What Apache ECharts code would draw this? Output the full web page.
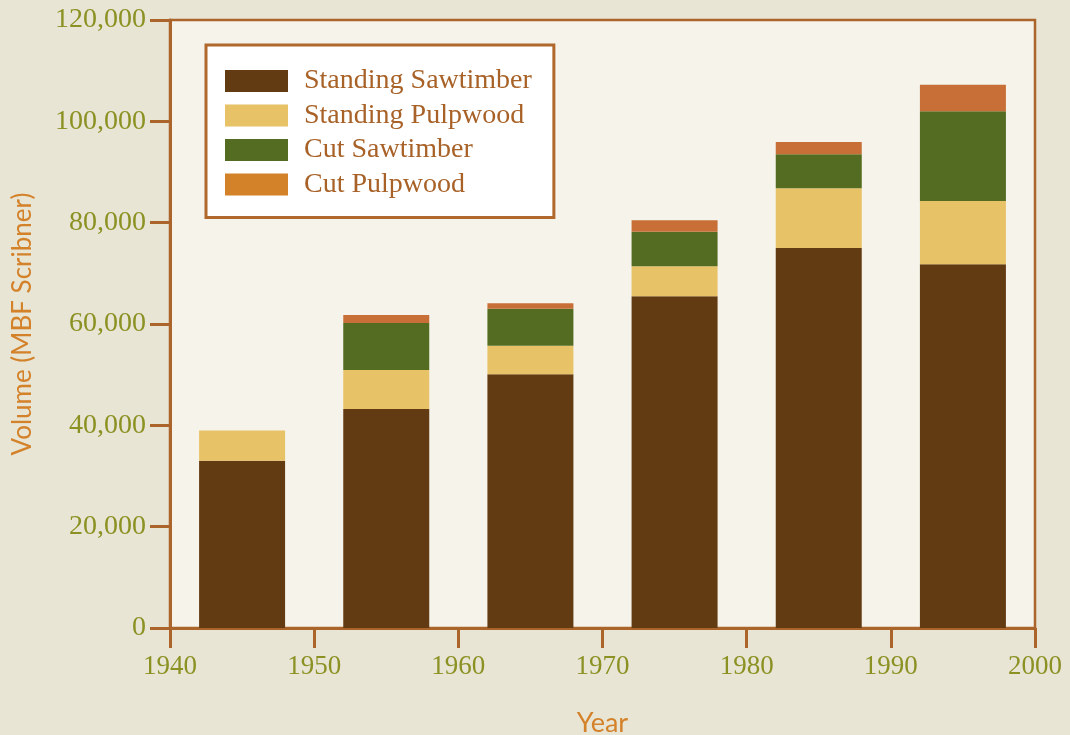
<!DOCTYPE html>
<html>
<head>
<meta charset="utf-8">
<script src="https://cdn.jsdelivr.net/npm/echarts@6/dist/echarts.min.js"></script>
<style>
html,body{margin:0;padding:0;background:#e8e5d5;}
#c{width:1070px;height:735px;}
</style>
</head>
<body>
<div id="c"></div>
<script>
const years = ['1945', '1955', '1965', '1975', '1985', '1995'];
const seriesNames = ['Standing Sawtimber', 'Standing Pulpwood', 'Cut Sawtimber', 'Cut Pulpwood'];
const standingSawtimber = [33000, 43200, 50100, 65500, 75000, 71800];
const standingPulpwood = [6000, 7700, 5600, 5900, 11800, 12500];
const cutSawtimber = [0, 9300, 7300, 6800, 6700, 17700];
const cutPulpwood = [0, 1600, 1100, 2300, 2400, 5200];
const xTicks = {min: 1940, max: 2000, interval: 10};
const yTicks = {min: 0, max: 120000, interval: 20000};

const barColors = ['#633b13', '#e8c266', '#546c21', '#c86f38'];
const legendColors = ['#633b13', '#e8c266', '#546c21', '#d4822a'];
const allValues = [standingSawtimber, standingPulpwood, cutSawtimber, cutPulpwood];

const axisColor = '#ab652b';
const labelColor = '#8b9122';
const titleColor = '#d4822a';

const chart = echarts.init(document.getElementById('c'), null, {renderer: 'canvas'});
chart.setOption({
  backgroundColor: '#e8e5d5',
  animation: false,
  grid: {left: 170, right: 35, top: 20, bottom: 107, show: true, containLabel: false,
         outerBoundsMode: 'none',
         backgroundColor: '#f5f3ea', borderColor: axisColor, borderWidth: 2.5},
  legend: {
    orient: 'vertical', left: 206, top: 45,
    backgroundColor: '#ffffff', borderColor: '#b0682c', borderWidth: 3,
    padding: [22, 22, 19, 19],
    itemWidth: 63, itemHeight: 22, itemGap: 6.5,
    textStyle: {fontFamily: 'Liberation Serif, serif', fontSize: 28, lineHeight: 28, color: '#a86228', padding: [0, 0, 0, 11]},
    data: seriesNames.map((n, i) => ({name: n, icon: 'rect', itemStyle: {color: legendColors[i]}}))
  },
  xAxis: [{
    type: 'value', min: xTicks.min, max: xTicks.max, interval: xTicks.interval,
    name: 'Year', nameLocation: 'middle', nameGap: 82,
    nameTextStyle: {fontFamily: 'Lato, sans-serif', fontSize: 27, color: titleColor},
    axisLine: {show: true, lineStyle: {color: axisColor, width: 3}},
    axisTick: {show: true, length: 20, lineStyle: {color: axisColor, width: 3}},
    axisLabel: {fontFamily: 'Liberation Serif, serif', fontSize: 27, color: labelColor, margin: 25,
                formatter: v => String(v)},
    splitLine: {show: false}
  }, {
    type: 'category', data: years, boundaryGap: true, show: false
  }],
  yAxis: {
    type: 'value', min: yTicks.min, max: yTicks.max, interval: yTicks.interval,
    name: 'Volume (MBF Scribner)', nameLocation: 'middle', nameGap: 134,
    nameTextStyle: {fontFamily: 'Lato, sans-serif', fontSize: 26, color: titleColor},
    axisLine: {show: true, lineStyle: {color: axisColor, width: 3}},
    axisTick: {show: true, length: 20, lineStyle: {color: axisColor, width: 3}},
    axisLabel: {fontFamily: 'Liberation Serif, serif', fontSize: 28, color: labelColor, margin: 24,
                formatter: v => v.toLocaleString('en-US')},
    splitLine: {show: false}
  },
  series: seriesNames.map((n, i) => ({
    name: n, type: 'bar', stack: 'vol', barWidth: 86, xAxisIndex: 1,
    itemStyle: {color: barColors[i]},
    data: allValues[i]
  }))
});
</script>
</body>
</html>
